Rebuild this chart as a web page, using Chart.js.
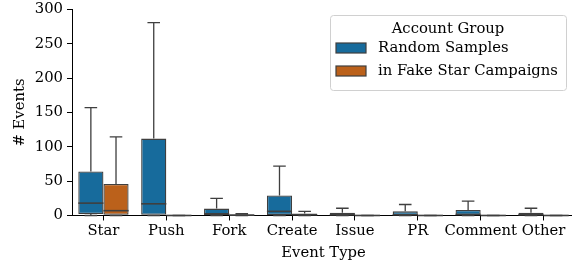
<!DOCTYPE html>
<html><head><meta charset="utf-8">
<script src="https://cdn.jsdelivr.net/npm/chart.js@4/dist/chart.umd.min.js"></script>
<style>html,body{margin:0;padding:0;overflow:hidden;background:#fff;width:572px;height:262px}#c{display:block}</style>
</head><body>
<canvas id="c" width="575" height="262"></canvas>
<script>
const categories = ['Star','Push','Fork','Create','Issue','PR','Comment','Other'];
const seriesNames = ['Random Samples','in Fake Star Campaigns'];
// Random Samples
const randWhiskLow = [0,0,0,0,0,0,0,0];
const randQ1       = [2,1,0,0.5,0,0,0,0];
const randMedian   = [18,17,2.5,6,1,1,1.5,1];
const randQ3       = [64,112,10,29,4,6,8,4];
const randWhiskHigh= [157,281,25,72,10.5,16,21,10.5];
// Fake Star Campaigns
const fakeWhiskLow = [0,0,0,0,0,0,0,0];
const fakeQ1       = [1,0,0,0,0,0,0,0];
const fakeMedian   = [7,0,0.5,1,0,0,0,0];
const fakeQ3       = [46,0,1.5,3,0,0,0,0];
const fakeWhiskHigh= [114.5,0,2.5,6,0,0,0,0];
const yTicks = [0,50,100,150,200,250,300];

const colors = ['#176b9c','#bb611b'];
const lineColor = '#3f3f3f';
const FONT = {family:'DejaVu Serif', size:14.8};
const YFONT = {family:'DejaVu Serif', size:14.8, lineHeight:0.75};

const stats = [
  {lo:randWhiskLow,q1:randQ1,med:randMedian,q3:randQ3,hi:randWhiskHigh},
  {lo:fakeWhiskLow,q1:fakeQ1,med:fakeMedian,q3:fakeQ3,hi:fakeWhiskHigh}
];

const boxPlugin = {
  id:'boxExtras',
  afterDatasetsDraw(chart){
    const ctx = chart.ctx, y = chart.scales.y;
    stats.forEach((s,di)=>{
      const meta = chart.getDatasetMeta(di);
      meta.data.forEach((bar,i)=>{
        const w = bar.width, cx = bar.x;
        ctx.save();
        ctx.strokeStyle = lineColor; ctx.lineWidth = 1.3;
        ctx.beginPath();
        ctx.moveTo(cx, y.getPixelForValue(s.q3[i])); ctx.lineTo(cx, y.getPixelForValue(s.hi[i]));
        ctx.moveTo(cx, y.getPixelForValue(s.q1[i])); ctx.lineTo(cx, y.getPixelForValue(s.lo[i]));
        const hy = y.getPixelForValue(s.hi[i]), ly = y.getPixelForValue(s.lo[i]);
        ctx.moveTo(cx - w/4, hy); ctx.lineTo(cx + w/4, hy);
        ctx.moveTo(cx - w/4, ly); ctx.lineTo(cx + w/4, ly);
        ctx.stroke();
        ctx.beginPath();
        const my = y.getPixelForValue(s.med[i]);
        ctx.lineWidth = 1.6;
        ctx.moveTo(cx - w/2, my); ctx.lineTo(cx + w/2, my);
        ctx.stroke();
        ctx.restore();
      });
    });
  },
  afterDraw(chart){
    const ctx = chart.ctx;
    const x0 = 330, y0 = 15, w = 236, h = 75;
    ctx.save();
    ctx.fillStyle = 'rgba(255,255,255,0.85)';
    ctx.strokeStyle = '#d0d0d0'; ctx.lineWidth = 1;
    ctx.beginPath(); ctx.roundRect(x0+0.5, y0+0.5, w, h, 3); ctx.fill(); ctx.stroke();
    ctx.fillStyle = '#000';
    ctx.font = FONT.size + 'px "DejaVu Serif"';
    ctx.textAlign = 'center'; ctx.textBaseline = 'middle';
    ctx.fillText('Account Group', x0 + w/2, y0 + 14);
    ctx.textAlign = 'left';
    seriesNames.forEach((n,i)=>{
      const py = y0 + 28 + i*23;
      ctx.fillStyle = colors[i];
      ctx.fillRect(336, py, 30, 10);
      ctx.strokeStyle = lineColor; ctx.lineWidth = 1.2;
      ctx.strokeRect(336, py, 30, 10);
      ctx.fillStyle = '#000';
      ctx.fillText(n, 378, py + 5);
    });
    ctx.restore();
  }
};

new Chart(document.getElementById('c'), {
  type:'bar',
  data:{
    labels: categories,
    datasets: stats.map((s,di)=>({
      label: seriesNames[di],
      data: s.q1.map((v,i)=>[v, s.q3[i]]),
      backgroundColor: colors[di],
      borderColor: lineColor,
      borderWidth: 1.3,
      borderSkipped: false,
      categoryPercentage: 0.8,
      barPercentage: 1.0
    }))
  },
  options:{
    responsive:false, animation:false, devicePixelRatio:1,
    layout:{padding:{top:0,left:0,right:0,bottom:0}},
    plugins:{legend:{display:false}, tooltip:{enabled:false}},
    scales:{
      x:{
        offset:true,
        grid:{offset:false, drawOnChartArea:false, drawTicks:true, tickLength:5, color:'#000', lineWidth:1},
        border:{display:true, color:'#000', width:1},
        ticks:{color:'#000', font:FONT, padding:2, maxRotation:0, autoSkip:false},
        title:{display:true, text:'Event Type', color:'#000', font:FONT, padding:{top:2,bottom:0}}
      },
      y:{
        min:0, max:300,
        afterBuildTicks(scale){ scale.ticks = yTicks.map(v=>({value:v})); },
        grid:{drawOnChartArea:false, drawTicks:true, tickLength:5, color:'#000', lineWidth:1},
        border:{display:true, color:'#000', width:1},
        ticks:{color:'#000', font:YFONT, padding:4},
        title:{display:true, text:'# Events', color:'#000', font:FONT, padding:{top:11,bottom:4}},
        afterFit(scale){ scale.width = 72; }
      }
    }
  },
  plugins:[boxPlugin]
});
</script>
</body></html>
